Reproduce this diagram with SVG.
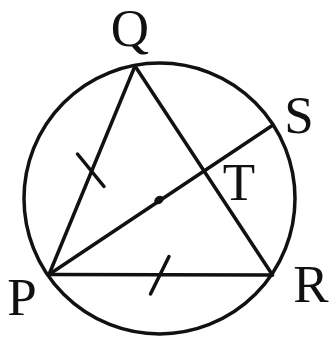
<svg xmlns="http://www.w3.org/2000/svg" width="332" height="338" viewBox="0 0 332 338">
<style>
.ln{stroke:#111;stroke-width:3.5;fill:none;stroke-linecap:round}
.lb{font-family:"Liberation Serif","DejaVu Serif",serif;font-size:53px;fill:#111;text-anchor:middle}
</style>
<rect width="332" height="338" fill="#fff"/>
<g id="circle"><circle cx="159.5" cy="198.5" r="135.5" class="ln" stroke-width="3.8"/></g>
<g id="connectors">
<line class="ln" x1="49" y1="274.5" x2="135" y2="66"/>
<line class="ln" x1="135" y1="66" x2="272.5" y2="275"/>
<line class="ln" x1="49" y1="274.5" x2="272.5" y2="275" stroke-width="4"/>
<line class="ln" x1="49" y1="274.5" x2="273" y2="125"/>
<line class="ln" x1="77.5" y1="154" x2="104" y2="186.5"/>
<line class="ln" x1="169" y1="256.5" x2="150.5" y2="294"/>
</g>
<g id="center"><ellipse cx="159" cy="200" rx="4.5" ry="3.3" fill="#111" stroke="#111" stroke-width="1" transform="rotate(-34 159 200)"/></g>
<g id="P"><text class="lb" x="22" y="315">P</text></g>
<g id="Q"><text class="lb" x="130" y="46">Q</text></g>
<g id="R"><text class="lb" x="311" y="302">R</text></g>
<g id="S"><text class="lb" x="299" y="133">S</text></g>
<g id="T"><text class="lb" x="239" y="200">T</text></g>
</svg>
